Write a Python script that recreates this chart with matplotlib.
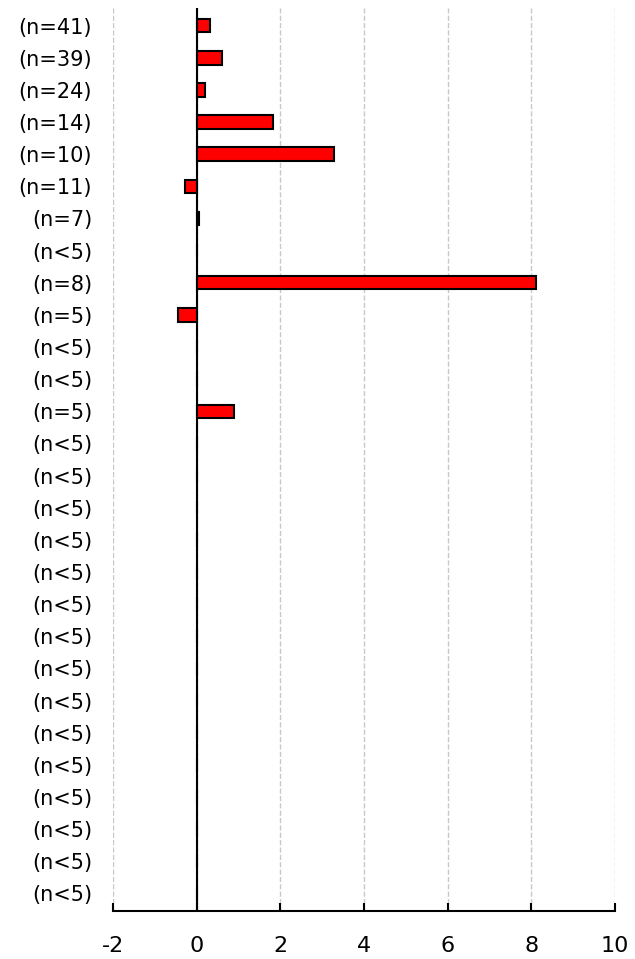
import matplotlib.pyplot as plt
import numpy as np

labels = ['(n=41)', '(n=39)', '(n=24)', '(n=14)', '(n=10)', '(n=11)', '(n=7)', '(n<5)',
          '(n=8)', '(n=5)', '(n<5)', '(n<5)', '(n=5)'] + ['(n<5)'] * 15
values = [0.33, 0.6, 0.2, 1.82, 3.28, -0.27, 0.05, 0.0,
          8.12, -0.45, 0.0, 0.0, 0.88] + [0.0] * 15

plt.rcParams['font.family'] = ['DejaVu Sans']
plt.rcParams['axes.unicode_minus'] = False

fig = plt.figure(figsize=(6.35, 9.59), dpi=100)
ax = fig.add_axes([0.178, 0.05, 0.7905, 0.9417])

y = np.arange(len(labels))
ax.barh(y, values, height=0.42, color='#ff0000', edgecolor='black', linewidth=1.5, zorder=3)
ax.axvline(0, color='black', linewidth=1.5, zorder=4)

ax.set_xlim(-2, 10)
ax.set_ylim(len(labels) - 0.45, -0.55)
ax.set_xticks(np.arange(-2, 11, 2))
ax.set_yticks(y)
ax.set_yticklabels(labels, fontsize=15)
ax.tick_params(axis='y', length=0, pad=15)
ax.tick_params(axis='x', direction='in', length=6, width=1.5, labelsize=16, pad=18)
ax.grid(axis='x', linestyle='--', color='#c8c8c8', linewidth=1, zorder=0)

for side in ['top', 'right', 'left']:
    ax.spines[side].set_visible(False)
ax.spines['bottom'].set_linewidth(1.5)

fig.savefig('out.png', dpi=100)
plt.close(fig)
